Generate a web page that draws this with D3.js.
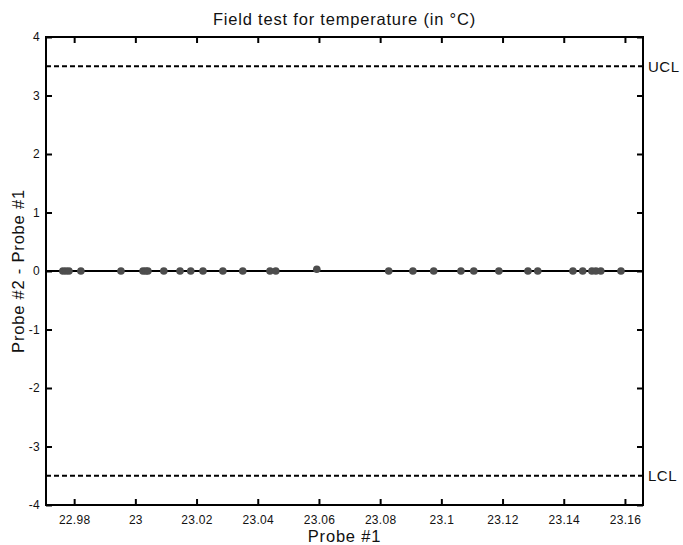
<!DOCTYPE html>
<html><head><meta charset="utf-8">
<script src="https://cdn.jsdelivr.net/npm/d3@7"></script>
<style>body{margin:0;background:#fff}svg{display:block}text{font-family:"Liberation Sans",Arial,sans-serif;fill:#111}</style>
</head><body><svg id="c" width="683" height="545"></svg>
<script>
const probe1 = [22.9763,22.9773,22.9783,22.9822,22.9953,23.0025,23.0034,23.0041,23.0093,23.0146,23.0181,23.0221,23.0286,23.0351,23.0440,23.0459,23.0593,23.0828,23.0907,23.0975,23.1064,23.1106,23.1188,23.1283,23.1315,23.1430,23.1462,23.1492,23.1505,23.1521,23.1587];
const diff   = [0,0,0,0,0,0,0,0,0,0,0,0,0,0,0,0,0.03,0,0,0,0,0,0,0,0,0,0,0,0,0,0];
const xTicks = [22.98,23,23.02,23.04,23.06,23.08,23.1,23.12,23.14,23.16];
const yTicks = [-4,-3,-2,-1,0,1,2,3,4];
const limits = [{name:"UCL",v:3.5},{name:"LCL",v:-3.5}];
const centerLine = 0;

const svg = d3.select("#c");
const L=46,R=643,T=37,B=505;
const x = d3.scaleLinear().domain([22.9708,23.1659]).range([L,R]);
const y = d3.scaleLinear().domain([-4,4]).range([B,T]);
const fmt = d => String(+d.toFixed(2));

const ax = svg.append("g");
ax.append("g").attr("transform",`translate(0,${B})`)
  .call(d3.axisBottom(x).tickValues(xTicks).tickSizeInner(-6).tickSizeOuter(0).tickPadding(10).tickFormat(fmt));
ax.append("g").attr("transform",`translate(0,${T})`)
  .call(d3.axisTop(x).tickValues(xTicks).tickSizeInner(-6).tickSizeOuter(0).tickFormat(""));
ax.append("g").attr("transform",`translate(${L},0)`)
  .call(d3.axisLeft(y).tickValues(yTicks).tickSizeInner(-6).tickSizeOuter(0).tickPadding(6).tickFormat(d=>String(d)));
ax.append("g").attr("transform",`translate(${R},0)`)
  .call(d3.axisRight(y).tickValues(yTicks).tickSizeInner(-6).tickSizeOuter(0).tickFormat(""));
ax.selectAll(".domain").remove();
ax.selectAll(".tick line").attr("stroke","#000").attr("stroke-width",2);
ax.selectAll(".tick text").attr("font-size",12).attr("letter-spacing",0.3).attr("fill","#111").attr("font-family","Liberation Sans, Arial, sans-serif");

svg.append("rect").attr("x",L).attr("y",T).attr("width",R-L).attr("height",B-T)
  .attr("fill","none").attr("stroke","#000").attr("stroke-width",2);

limits.forEach(l=>{
  svg.append("line").attr("x1",L).attr("x2",R).attr("y1",y(l.v)).attr("y2",y(l.v))
    .attr("stroke","#000").attr("stroke-width",1.9).attr("stroke-dasharray","5,3");
  svg.append("text").attr("x",R+5).attr("y",y(l.v)+5.5).attr("font-size",15).attr("letter-spacing",0.5).text(l.name);
});

svg.append("line").attr("x1",L).attr("x2",R).attr("y1",y(centerLine)).attr("y2",y(centerLine))
  .attr("stroke","#000").attr("stroke-width",2.2);

svg.append("g").selectAll("circle").data(probe1).join("circle")
  .attr("cx",d=>x(d)).attr("cy",(d,i)=>y(diff[i])).attr("r",3.8).attr("fill","#4d4d4d");

svg.append("text").attr("x",(L+R)/2).attr("y",25).attr("text-anchor","middle").attr("font-size",16.5).attr("letter-spacing",0.8).text("Field test for temperature (in °C)");
svg.append("text").attr("x",(L+R)/2).attr("y",542).attr("text-anchor","middle").attr("font-size",16.5).attr("letter-spacing",0.8).text("Probe #1");
svg.append("text").attr("transform",`translate(24,${(T+B)/2}) rotate(-90)`).attr("text-anchor","middle").attr("font-size",16.5).attr("letter-spacing",0.8).text("Probe #2 - Probe #1");
</script></body></html>
